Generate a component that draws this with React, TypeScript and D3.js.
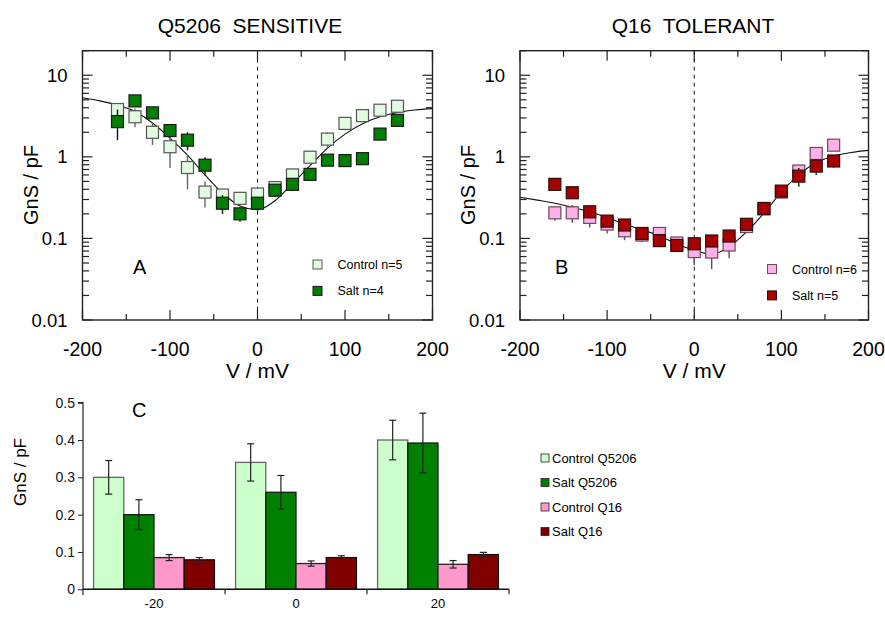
import React, { useEffect, useRef } from 'react';
import * as d3 from 'd3';

// V steps for the measured points (mV)
const voltages = [-160, -140, -120, -100, -80, -60, -40, -20, 0, 20, 40, 60, 80, 100, 120, 140, 160];

// Q5206 sensitive
const sensControl = [3.8, 3.1, 2.0, 1.33, 0.74, 0.37, 0.34, 0.31, 0.35, 0.42, 0.6, 0.99, 1.65, 2.57, 3.2, 3.73, 4.17];
const sensControlErr = [0.7, 0.8, 0.6, 0.6, 0.34, 0.13, 0.06, 0.05, 0.05, 0.06, 0.1, 0.15, 0.35, 0.45, 0.4, 0.3, 0.4];
const sensSalt = [2.7, 4.85, 3.46, 2.1, 1.6, 0.79, 0.27, 0.2, 0.27, 0.39, 0.46, 0.61, 0.91, 0.9, 0.95, 1.9, 2.8];
const sensSaltErr = [1.1, 0.5, 0.4, 0.3, 0.4, 0.2, 0.07, 0.04, 0.05, 0.07, 0.08, 0.08, 0.1, 0.1, 0.08, 0.15, 0.4];

// Q16 tolerant
const tolControl = [0.206, 0.206, 0.181, 0.15, 0.124, 0.11, 0.115, 0.088, 0.069, 0.068, 0.083, 0.14, 0.23, 0.37, 0.67, 1.1, 1.39];
const tolControlErr = [0.04, 0.05, 0.045, 0.035, 0.029, 0.02, 0.015, 0.015, 0.022, 0.026, 0.026, 0.02, 0.03, 0.05, 0.1, 0.15, 0.2];
const tolSalt = [0.46, 0.363, 0.212, 0.163, 0.146, 0.115, 0.094, 0.082, 0.086, 0.093, 0.107, 0.149, 0.233, 0.38, 0.58, 0.77, 0.89];
const tolSaltErr = [0.06, 0.04, 0.03, 0.02, 0.02, 0.012, 0.01, 0.01, 0.01, 0.012, 0.015, 0.02, 0.03, 0.05, 0.15, 0.17, 0.15];

// fitted curves
const fitVoltages = [-200, -180, -160, -140, -120, -100, -80, -60, -40, -20, 0, 20, 40, 60, 80, 100, 120, 140, 160, 180, 200];
const sensFit = [5.3, 4.85, 4.3, 3.6, 2.6, 1.7, 1.05, 0.6, 0.36, 0.25, 0.225, 0.29, 0.47, 0.78, 1.28, 1.9, 2.55, 3.1, 3.5, 3.75, 3.9];
const tolFit = [0.32, 0.295, 0.27, 0.24, 0.212, 0.18, 0.15, 0.127, 0.108, 0.085, 0.072, 0.064, 0.079, 0.12, 0.205, 0.37, 0.6, 0.85, 1.02, 1.13, 1.2];

// bar chart
const barGroups = ['-20', '0', '20'];
const barSeries = ['Control Q5206', 'Salt Q5206', 'Control Q16', 'Salt Q16'];
const barControlQ5206 = [0.3, 0.34, 0.4];
const barControlQ5206Err = [0.045, 0.05, 0.053];
const barSaltQ5206 = [0.2, 0.26, 0.392];
const barSaltQ5206Err = [0.04, 0.045, 0.08];
const barControlQ16 = [0.085, 0.069, 0.067];
const barControlQ16Err = [0.008, 0.007, 0.01];
const barSaltQ16 = [0.079, 0.085, 0.093];
const barSaltQ16Err = [0.006, 0.005, 0.006];

const yTickLabels = ['0.01', '0.1', '1', '10'];
const xTickLabels = ['-200', '-100', '0', '100', '200'];

const FONT = "'Liberation Sans', Arial, sans-serif";

const App = () => {
  const svgRef = useRef(null);

  useEffect(() => {
    const svg = d3.select(svgRef.current);
    svg.selectAll('*').remove();
    svg.attr('font-family', FONT);

    const drawPanel = (opts) => {
      const { left, right, title, titleX, letter, letterX, series, fit, legendX, legendY } = opts;
      const top = 50.7;
      const bottom = 320;
      const x = d3.scaleLinear().domain([-200, 200]).range([left, right]);
      const y = d3.scaleLog().domain([0.01, 20]).range([bottom, top]);
      const g = svg.append('g');

      // fit curve
      const line = d3
        .line()
        .x((d) => x(d[0]))
        .y((d) => y(d[1]))
        .curve(d3.curveMonotoneX);
      g.append('path')
        .datum(fitVoltages.map((v, i) => [v, fit[i]]))
        .attr('d', line)
        .attr('fill', 'none')
        .attr('stroke', '#111')
        .attr('stroke-width', 1.1);

      // zero line
      g.append('line')
        .attr('x1', x(0))
        .attr('x2', x(0))
        .attr('y1', top)
        .attr('y2', bottom)
        .attr('stroke', '#111')
        .attr('stroke-dasharray', '4,4');

      // points
      series.forEach((s) => {
        const pts = voltages.map((v, i) => ({ v, val: s.values[i], err: s.errs[i] }));
        g.selectAll(null)
          .data(pts)
          .join('line')
          .attr('x1', (d) => x(d.v))
          .attr('x2', (d) => x(d.v))
          .attr('y1', (d) => y(Math.max(d.val - d.err, 0.011)))
          .attr('y2', (d) => y(d.val + d.err))
          .attr('stroke', s.errColor)
          .attr('stroke-width', 1.4);
        g.selectAll(null)
          .data(pts)
          .join('rect')
          .attr('x', (d) => x(d.v) - 6)
          .attr('y', (d) => y(d.val) - 6)
          .attr('width', 12)
          .attr('height', 12)
          .attr('fill', s.fill)
          .attr('stroke', s.stroke)
          .attr('stroke-width', 1.2);
      });

      // frame
      g.append('rect')
        .attr('x', left)
        .attr('y', top)
        .attr('width', right - left)
        .attr('height', bottom - top)
        .attr('fill', 'none')
        .attr('stroke', '#222')
        .attr('stroke-width', 1.4);

      // x ticks (inward, top and bottom)
      const xMajor = d3.range(-200, 201, 100);
      const xMinor = d3.range(-150, 151, 100);
      [[xMajor, 10], [xMinor, 6]].forEach(([vals, len]) => {
        vals.forEach((v) => {
          g.append('line').attr('x1', x(v)).attr('x2', x(v)).attr('y1', bottom).attr('y2', bottom - len).attr('stroke', '#222').attr('stroke-width', 1.2);
          g.append('line').attr('x1', x(v)).attr('x2', x(v)).attr('y1', top).attr('y2', top + len).attr('stroke', '#222').attr('stroke-width', 1.2);
        });
      });

      // y ticks (inward, left and right)
      const yMajor = [0.01, 0.1, 1, 10];
      const yMinor = [];
      [0.01, 0.1, 1, 10].forEach((dec) => {
        for (let k = 2; k <= 9; k++) if (dec * k <= 20) yMinor.push(dec * k);
      });
      [[yMajor, 10], [yMinor, 6.5]].forEach(([vals, len]) => {
        vals.forEach((v) => {
          g.append('line').attr('x1', left).attr('x2', left + len).attr('y1', y(v)).attr('y2', y(v)).attr('stroke', '#222').attr('stroke-width', 1.2);
          g.append('line').attr('x1', right).attr('x2', right - len).attr('y1', y(v)).attr('y2', y(v)).attr('stroke', '#222').attr('stroke-width', 1.2);
        });
      });

      // tick labels
      g.selectAll(null)
        .data(yMajor)
        .join('text')
        .attr('x', left - 15)
        .attr('y', (d) => y(d) + 6.5)
        .attr('text-anchor', 'end')
        .attr('font-size', 18.5)
        .text((_, i) => yTickLabels[i]);
      g.selectAll(null)
        .data(xMajor)
        .join('text')
        .attr('x', (d) => x(d))
        .attr('y', 356)
        .attr('text-anchor', 'middle')
        .attr('font-size', 19.5)
        .text((_, i) => xTickLabels[i]);

      // axis titles
      g.append('text')
        .attr('x', x(0))
        .attr('y', 378)
        .attr('text-anchor', 'middle')
        .attr('font-size', 21)
        .text('V / mV');
      g.append('text')
        .attr('transform', `translate(${left - 45},185) rotate(-90)`)
        .attr('text-anchor', 'middle')
        .attr('font-size', 20)
        .text('GnS / pF');
      g.append('text')
        .attr('x', titleX)
        .attr('y', 33)
        .attr('text-anchor', 'middle')
        .attr('font-size', 21)
        .style('white-space', 'pre')
        .text(title);
      g.append('text')
        .attr('x', letterX)
        .attr('y', 274)
        .attr('font-size', 20)
        .text(letter);

      // legend
      series.forEach((s, i) => {
        const ly = legendY + i * 26.4;
        g.append('rect')
          .attr('x', legendX - 4.5)
          .attr('y', ly - 4.5)
          .attr('width', 9)
          .attr('height', 9)
          .attr('fill', s.fill)
          .attr('stroke', s.stroke);
        g.append('text')
          .attr('x', legendX + 20)
          .attr('y', ly + 4.5)
          .attr('font-size', 12.5)
          .text(s.label);
      });
    };

    drawPanel({
      left: 82.5,
      right: 432.5,
      title: 'Q5206  SENSITIVE',
      titleX: 250,
      letter: 'A',
      letterX: 133,
      fit: sensFit,
      legendX: 317.5,
      legendY: 264.5,
      series: [
        { label: 'Control n=5', values: sensControl, errs: sensControlErr, fill: '#e2fce2', stroke: '#555', errColor: '#666' },
        { label: 'Salt n=4', values: sensSalt, errs: sensSaltErr, fill: '#007f00', stroke: '#1a1a1a', errColor: '#111' },
      ],
    });

    drawPanel({
      left: 520,
      right: 868.5,
      title: 'Q16  TOLERANT',
      titleX: 693,
      letter: 'B',
      letterX: 555,
      fit: tolFit,
      legendX: 772,
      legendY: 269,
      series: [
        { label: 'Control n=6', values: tolControl, errs: tolControlErr, fill: '#ffb0e8', stroke: '#6a4a5a', errColor: '#555' },
        { label: 'Salt n=5', values: tolSalt, errs: tolSaltErr, fill: '#a80000', stroke: '#2a1010', errColor: '#222' },
      ],
    });

    // bar chart
    const barValues = [barControlQ5206, barSaltQ5206, barControlQ16, barSaltQ16];
    const barErrs = [barControlQ5206Err, barSaltQ5206Err, barControlQ16Err, barSaltQ16Err];
    const barFills = ['#ccffcc', '#008000', '#ff99cc', '#800000'];
    const barStrokes = ['#666', '#1a1a1a', '#222', '#111'];

    const x0 = d3.scaleBand().domain(barGroups).range([83, 509]).paddingInner(0).paddingOuter(0);
    const x1 = d3.scaleBand().domain(barSeries).range([0, x0.bandwidth()]).paddingInner(0).paddingOuter(0.35);
    const yb = d3.scaleLinear().domain([0, 0.5]).range([589.3, 402.7]);
    const gb = svg.append('g');

    barSeries.forEach((s, si) => {
      barGroups.forEach((grp, gi) => {
        const v = barValues[si][gi];
        const e = barErrs[si][gi];
        const bx = x0(grp) + x1(s);
        gb.append('rect')
          .attr('x', bx)
          .attr('y', yb(v))
          .attr('width', x1.bandwidth())
          .attr('height', yb(0) - yb(v))
          .attr('fill', barFills[si])
          .attr('stroke', barStrokes[si])
          .attr('stroke-width', 1.3);
        const cx = bx + x1.bandwidth() / 2;
        gb.append('line').attr('x1', cx).attr('x2', cx).attr('y1', yb(v - e)).attr('y2', yb(v + e)).attr('stroke', '#222').attr('stroke-width', 1.2);
        [v - e, v + e].forEach((ev) => {
          gb.append('line').attr('x1', cx - 3.5).attr('x2', cx + 3.5).attr('y1', yb(ev)).attr('y2', yb(ev)).attr('stroke', '#222').attr('stroke-width', 1.2);
        });
      });
    });

    // y axis
    const yAxis = gb.append('g').attr('transform', 'translate(83,0)').call(d3.axisLeft(yb).tickValues([0, 0.1, 0.2, 0.3, 0.4, 0.5]).tickFormat(d3.format('')).tickSize(5).tickPadding(3));
    yAxis.select('.domain').attr('stroke', '#222').attr('stroke-width', 1.2).attr('d', 'M-5,402.7H0V595');
    yAxis.selectAll('text').attr('font-size', 14).attr('font-family', FONT).attr('fill', '#111');
    yAxis.selectAll('line').attr('stroke', '#222');

    // x axis
    gb.append('line').attr('x1', 83).attr('x2', 509).attr('y1', yb(0)).attr('y2', yb(0)).attr('stroke', '#111').attr('stroke-width', 1.4);
    barGroups.forEach((grp) => {
      const bx = x0(grp) + x0.bandwidth();
      gb.append('line').attr('x1', bx).attr('x2', bx).attr('y1', yb(0)).attr('y2', yb(0) + 5).attr('stroke', '#222').attr('stroke-width', 1.2);
      gb.append('text')
        .attr('x', x0(grp) + x0.bandwidth() / 2)
        .attr('y', 608)
        .attr('text-anchor', 'middle')
        .attr('font-size', 13)
        .text(grp);
    });

    gb.append('text')
      .attr('transform', 'translate(26,472) rotate(-90)')
      .attr('text-anchor', 'middle')
      .attr('font-size', 17)
      .text('GnS / pF');
    gb.append('text').attr('x', 132).attr('y', 417).attr('font-size', 20).text('C');

    // legend
    barSeries.forEach((s, i) => {
      const ly = 458 + i * 24.5;
      gb.append('rect')
        .attr('x', 541)
        .attr('y', ly - 4)
        .attr('width', 8)
        .attr('height', 8)
        .attr('fill', barFills[i])
        .attr('stroke', '#222')
        .attr('stroke-width', 0.8);
      gb.append('text')
        .attr('x', 552)
        .attr('y', ly + 4.5)
        .attr('font-size', 13)
        .text(s);
    });
  }, []);

  return (
    <svg
      ref={svgRef}
      width={885}
      height={619}
      style={{ position: 'absolute', left: 0, top: 0, background: '#fff' }}
    />
  );
};

export default App;
